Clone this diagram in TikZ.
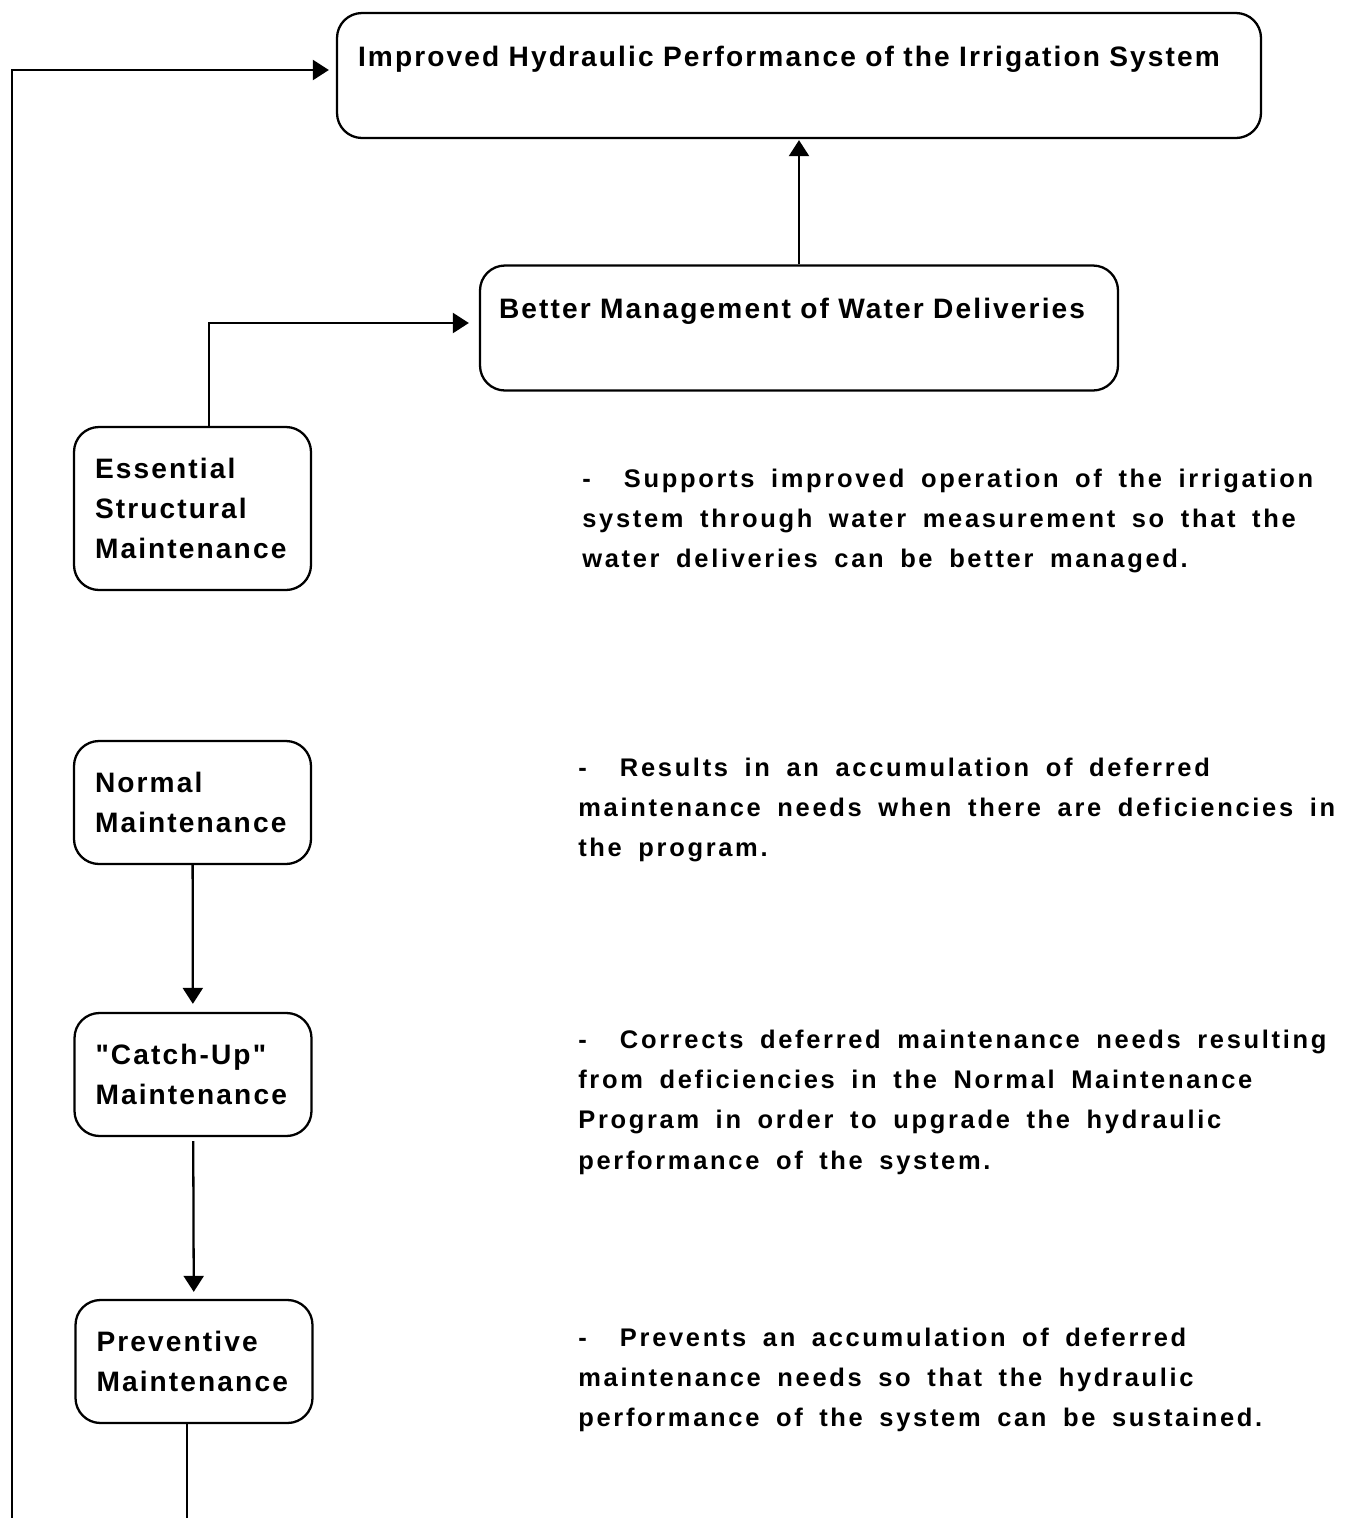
\documentclass[tikz,border=0pt]{standalone}
\usepackage{fontspec}
\setmainfont{Liberation Sans}
\newfontfamily\boxfont{Liberation Sans}[LetterSpace=7.5,WordSpace=1.5]
\newfontfamily\notefont{Liberation Sans}[LetterSpace=10.5,WordSpace=1.7]
\usetikzlibrary{arrows.meta}

\tikzset{
  block/.style={draw, line width=1.3pt, rounded corners=0.5cm, align=left,
    inner xsep=0.42cm, inner ysep=0pt,
    font=\boxfont\bfseries\fontsize{16pt}{22.8pt}\selectfont},
  goal/.style={block, text height=1.06cm, text depth=1.44cm},
  task/.style={block, text width=3.9cm, minimum width=4.74cm, minimum height=2.46cm},
  note/.style={anchor=north west, inner sep=0pt, align=left,
    font=\notefont\bfseries\fontsize{14.5pt}{22.8pt}\selectfont},
  arr/.style={line width=1.3pt, -{Triangle[length=0.32cm,width=0.4cm]}}
}

\begin{document}
\begin{tikzpicture}

  \useasboundingbox (0,0) rectangle (27.12,-30.36);

  \node[goal, text width=17.64cm] (top) at (15.98,-1.51)
    {Improved Hydraulic Performance of the Irrigation System};
  \node[goal, text width=12.0cm, inner xsep=0.38cm] (better) at (15.98,-6.56)
    {Better Management of Water Deliveries};

  \node[task, minimum height=3.26cm] (ess) at (3.85,-10.17)
    {Essential\\Structural\\Maintenance};
  \node[task] (normal) at (3.85,-16.05) {Normal\\Maintenance};
  \node[task] (catch) at (3.86,-21.49) {"Catch-Up"\\Maintenance};
  \node[task] (prev) at (3.88,-27.23) {Preventive\\Maintenance};

  \node[note] (n1) at (11.64,-9.38)
    {-\ \ Supports improved operation of the irrigation\\
     system through water measurement so that the\\
     water deliveries can be better managed.};
  \node[note] (n2) at (11.56,-15.16)
    {-\ \ Results in an accumulation of deferred\\
     maintenance needs when there are deficiencies in\\
     the program.};
  \node[note] (n3) at (11.56,-20.60)
    {-\ \ Corrects deferred maintenance needs resulting\\
     from deficiencies in the Normal Maintenance\\
     Program in order to upgrade the hydraulic\\
     performance of the system.};
  \node[note] (n4) at (11.56,-26.56)
    {-\ \ Prevents an accumulation of deferred\\
     maintenance needs so that the hydraulic\\
     performance of the system can be sustained.};

  \coordinate (foot) at (3.74,-30.36);
  \coordinate (edge) at (0.24,-30.36);

  \draw[arr, shorten >=0.2cm] ([xshift=0.33cm]ess.north) |- ([yshift=0.1cm]better.west);
  \draw[arr, shorten >=0.02cm] (better) -- (top);
  \draw[arr, shorten >=0.16cm] (normal) -- (catch);
  \draw[arr, shorten <=0.08cm, shorten >=0.14cm] (catch) -- (prev);
  \draw[line width=1.3pt] ([xshift=-0.14cm]prev.south) -- (foot);
  \draw[arr, shorten >=0.14cm] (edge) |- ([yshift=0.11cm]top.west);

\end{tikzpicture}
\end{document}
